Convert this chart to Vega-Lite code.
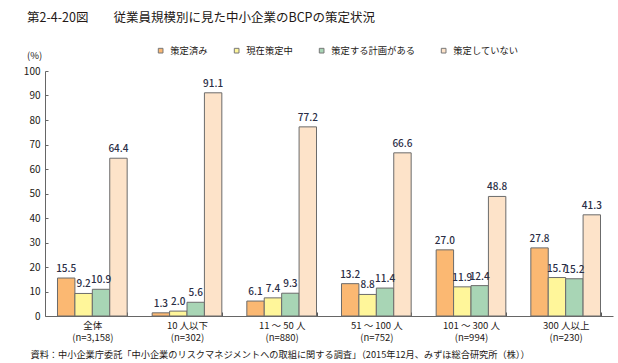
{
  "$schema": "https://vega.github.io/schema/vega-lite/v6.json",
  "autosize": {"type": "none"},
  "width": 568,
  "height": 245,
  "padding": {"left": 45, "top": 71, "right": 5, "bottom": 47},
  "background": "white",
  "config": {"font": "Noto Sans CJK JP", "view": {"stroke": null}},
  "title": {
    "text": "第2-4-20図　　従業員規模別に見た中小企業のBCPの策定状況",
    "anchor": "start",
    "frame": "group",
    "dx": -18,
    "offset": 22,
    "fontSize": 12.5,
    "fontWeight": "normal",
    "color": "#231815"
  },
  "data": {
    "values": [
      {"group": "全体|(n=3,158)", "status": "策定済み", "value": 15.5},
      {"group": "全体|(n=3,158)", "status": "現在策定中", "value": 9.2},
      {"group": "全体|(n=3,158)", "status": "策定する計画がある", "value": 10.9},
      {"group": "全体|(n=3,158)", "status": "策定していない", "value": 64.4},
      {"group": "10 人以下|(n=302)", "status": "策定済み", "value": 1.3},
      {"group": "10 人以下|(n=302)", "status": "現在策定中", "value": 2.0},
      {"group": "10 人以下|(n=302)", "status": "策定する計画がある", "value": 5.6},
      {"group": "10 人以下|(n=302)", "status": "策定していない", "value": 91.1},
      {"group": "11 ～ 50 人|(n=880)", "status": "策定済み", "value": 6.1},
      {"group": "11 ～ 50 人|(n=880)", "status": "現在策定中", "value": 7.4},
      {"group": "11 ～ 50 人|(n=880)", "status": "策定する計画がある", "value": 9.3},
      {"group": "11 ～ 50 人|(n=880)", "status": "策定していない", "value": 77.2},
      {"group": "51 ～ 100 人|(n=752)", "status": "策定済み", "value": 13.2},
      {"group": "51 ～ 100 人|(n=752)", "status": "現在策定中", "value": 8.8},
      {"group": "51 ～ 100 人|(n=752)", "status": "策定する計画がある", "value": 11.4},
      {"group": "51 ～ 100 人|(n=752)", "status": "策定していない", "value": 66.6},
      {"group": "101 ～ 300 人|(n=994)", "status": "策定済み", "value": 27.0},
      {"group": "101 ～ 300 人|(n=994)", "status": "現在策定中", "value": 11.9},
      {"group": "101 ～ 300 人|(n=994)", "status": "策定する計画がある", "value": 12.4},
      {"group": "101 ～ 300 人|(n=994)", "status": "策定していない", "value": 48.8},
      {"group": "300 人以上|(n=230)", "status": "策定済み", "value": 27.8},
      {"group": "300 人以上|(n=230)", "status": "現在策定中", "value": 15.7},
      {"group": "300 人以上|(n=230)", "status": "策定する計画がある", "value": 15.2},
      {"group": "300 人以上|(n=230)", "status": "策定していない", "value": 41.3}
    ]
  },
  "encoding": {
    "x": {
      "field": "group",
      "type": "nominal",
      "sort": null,
      "scale": {"paddingInner": 0.264, "paddingOuter": 0.132},
      "axis": {
        "title": "資料：中小企業庁委託「中小企業のリスクマネジメントへの取組に関する調査」（2015年12月、みずほ総合研究所（株））",
        "titleX": -15,
        "titleY": 41,
        "titleAlign": "left",
        "titleBaseline": "alphabetic",
        "titleFontSize": 9.2,
        "titleFontWeight": "normal",
        "titleColor": "#231815",
        "labelExpr": "split(datum.label, '|')",
        "labelAngle": 0,
        "labelFontSize": 9.5,
        "labelLineHeight": 12,
        "labelPadding": 8,
        "labelColor": "#231815",
        "tickBand": "extent",
        "tickSize": -4,
        "tickColor": "#555555",
        "domainColor": "#666666"
      }
    },
    "xOffset": {
      "field": "status",
      "type": "nominal",
      "sort": ["策定済み", "現在策定中", "策定する計画がある", "策定していない"],
      "scale": {"paddingInner": 0, "paddingOuter": 0}
    },
    "y": {
      "field": "value",
      "type": "quantitative",
      "scale": {"domain": [0, 100]},
      "axis": {
        "title": "(%)",
        "titleAngle": 0,
        "titleX": -11,
        "titleY": -13,
        "titleAlign": "center",
        "titleBaseline": "alphabetic",
        "titleFontSize": 9.5,
        "titleFontWeight": "normal",
        "titleColor": "#231815",
        "values": [0, 10, 20, 30, 40, 50, 60, 70, 80, 90, 100],
        "grid": false,
        "tickSize": -3,
        "tickColor": "#666666",
        "domainColor": "#666666",
        "labelFontSize": 10,
        "labelColor": "#231815",
        "labelPadding": 8
      }
    }
  },
  "layer": [
    {
      "mark": {"type": "bar", "stroke": "#6b6b6b", "strokeWidth": 1},
      "encoding": {
        "color": {
          "field": "status",
          "type": "nominal",
          "sort": ["策定済み", "現在策定中", "策定する計画がある", "策定していない"],
          "scale": {
            "domain": ["策定済み", "現在策定中", "策定する計画がある", "策定していない"],
            "range": ["#FBB872", "#FFF69A", "#A8D5B5", "#FDE3C9"]
          },
          "legend": {
            "orient": "none",
            "legendX": 111,
            "legendY": -25,
            "direction": "horizontal",
            "title": null,
            "symbolType": "square",
            "symbolSize": 22,
            "symbolStrokeColor": "#777777",
            "symbolStrokeWidth": 1,
            "labelFontSize": 9.3,
            "labelOffset": 5,
            "labelColor": "#231815",
            "columnPadding": 24,
            "padding": 0
          }
        }
      }
    },
    {
      "mark": {"type": "text", "dy": -6, "baseline": "alphabetic", "fontSize": 10, "fontWeight": 500, "color": "#2a2d45"},
      "encoding": {"text": {"field": "value", "type": "quantitative", "format": ".1f"}}
    }
  ]
}
